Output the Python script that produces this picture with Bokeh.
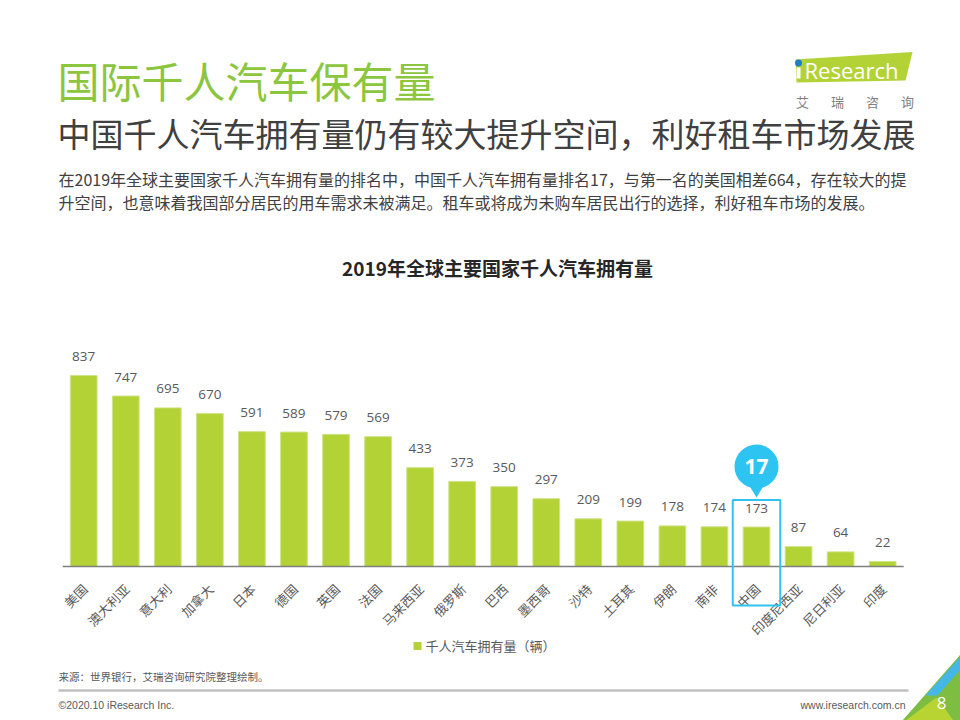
import math
from bokeh.plotting import figure
from bokeh.models import Range1d, ColumnDataSource
from bokeh.core.properties import value
from bokeh.embed import file_html
from bokeh.resources import INLINE

# ---------------- data ----------------
countries = ["美国", "澳大利亚", "意大利", "加拿大", "日本", "德国", "英国", "法国", "马来西亚", "俄罗斯",
             "巴西", "墨西哥", "沙特", "土耳其", "伊朗", "南非", "中国", "印度尼西亚", "尼日利亚", "印度"]
cars_per_1000 = [837, 747, 695, 670, 591, 589, 579, 569, 433, 373,
                 350, 297, 209, 199, 178, 174, 173, 87, 64, 22]
highlight_country = "中国"
highlight_rank = "17"
series_name = "千人汽车拥有量（辆）"

title = "国际千人汽车保有量"
subtitle = "中国千人汽车拥有量仍有较大提升空间，利好租车市场发展"
para1 = "在2019年全球主要国家千人汽车拥有量的排名中，中国千人汽车拥有量排名17，与第一名的美国相差664，存在较大的提"
para2 = "升空间，也意味着我国部分居民的用车需求未被满足。租车或将成为未购车居民出行的选择，利好租车市场的发展。"
chart_title = "2019年全球主要国家千人汽车拥有量"
source_note = "来源：世界银行，艾瑞咨询研究院整理绘制。"
footer_left = "©2020.10 iResearch Inc."
footer_right = "www.iresearch.com.cn"
page_no = "8"
logo_cn = ["艾", "瑞", "咨", "询"]

# ---------------- layout (page pixel geometry) ----------------
W, H = 960, 720
X0 = 83.2        # page x of first bar centre
PITCH = 42.05    # px per category
AXIS_Y = 566.0   # page y of baseline
PXU = 0.2282     # px per unit

CJK = value("Noto Sans CJK SC")
NUM = value("Open Sans")
GREEN = "#b2d235"
BLUE = "#2ec4f1"

p = figure(width=W, height=H, x_range=Range1d(0, W), y_range=Range1d(H, 0),
           x_axis_type=None, y_axis_type=None, output_backend="svg",
           toolbar_location=None, min_border=0, outline_line_color=None)
p.grid.visible = False
p.background_fill_color = "white"
p.border_fill_color = "white"
p.extra_x_ranges = {"idx": Range1d((0 - X0) / PITCH, (W - X0) / PITCH)}
p.extra_y_ranges = {"val": Range1d((AXIS_Y - H) / PXU, (AXIS_Y - 0) / PXU)}


def txt(x, y, s, size, color, font=CJK, align="left", baseline="middle", style="normal", **kw):
    p.text(x=[x], y=[y], text=[s], text_font_size=value(f"{size}px"), text_color=color,
           text_font=font, text_align=align, text_baseline=baseline,
           text_font_style=style, **kw)


# ---------------- header ----------------
txt(57, 79, title, 42, "#8cc63f")
txt(57, 132, subtitle, 33, "#404040")
txt(58, 178, para1, 16, "#404040")
txt(58, 201, para2, 16, "#404040")

# logo
p.patch(x=[795, 912, 905, 796], y=[59, 51.5, 80, 82], fill_color=GREEN, line_color=None)
p.quad(left=[796], right=[800], top=[67], bottom=[78], fill_color="white", line_color=None)
p.scatter(x=[798], y=[62.5], size=7, marker="circle", fill_color="#1f7fc4", line_color=None)
txt(804, 69, "Research", 22, "white", font=NUM)
for i, ch in enumerate(logo_cn):
    txt(802 + i * 35, 101, ch, 13, "#7f7f7f", align="center")

# chart title
txt(497, 267, chart_title, 19, "#262626", style="bold", align="center")

# ---------------- bars ----------------
idx = list(range(len(countries)))
src = ColumnDataSource(dict(i=idx, v=cars_per_1000, c=countries,
                            lbl=[str(v) for v in cars_per_1000]))
p.vbar(x="i", top="v", bottom=0, width=0.635, source=src, fill_color=GREEN,
       line_color="#cfe388", line_width=1, x_range_name="idx", y_range_name="val")
p.text(x="i", y="v", text="lbl", source=src, x_range_name="idx", y_range_name="val",
       text_font=NUM, text_font_size=value("13.5px"), text_color="#595959",
       text_align="center", text_baseline="middle", y_offset=-19)
# axis line
p.segment(x0=[-0.5], x1=[len(countries) - 0.5], y0=[0], y1=[0], line_color="#7f7f7f",
          line_width=1.5, x_range_name="idx", y_range_name="val")
# category labels
p.text(x="i", y=value(0), text="c", source=src, x_range_name="idx", y_range_name="val",
       text_font=CJK, text_font_size=value("13px"), text_color="#595959",
       text_align="right", text_baseline="middle", angle=math.pi / 4, y_offset=20, x_offset=1)

# highlight
hi = countries.index(highlight_country)
p.quad(left=[hi - 0.565], right=[hi + 0.565], top=[499.5], bottom=[605], fill_color=None,
       line_color=BLUE, line_width=2, x_range_name="idx")
p.patch(x=[hi - 0.3, hi + 0.3, hi], y=[476, 476, 497], fill_color=BLUE, line_color=None,
        x_range_name="idx")
p.scatter(x=[hi], y=[466], size=44, marker="circle", fill_color=BLUE, line_color=None,
          x_range_name="idx")
p.text(x=[hi], y=[466], text=[highlight_rank], x_range_name="idx", text_font=NUM,
       text_font_size=value("21px"), text_font_style="bold", text_color="white",
       text_align="center", text_baseline="middle")

# legend
p.scatter(x=[417], y=[645.5], size=8, marker="square", fill_color=GREEN, line_color=None)
txt(425, 644.5, series_name, 13, "#595959")

# ---------------- footer ----------------
txt(58, 676, source_note, 10.5, "#595959")
p.segment(x0=[58], x1=[908], y0=[690], y1=[690], line_color="#c0c0c0", line_width=2.5)
txt(58, 704, footer_left, 10.5, "#595959", font=value("Liberation Sans"))
txt(905, 704, footer_right, 10.5, "#595959", font=value("Liberation Sans"), align="right")

# corner decoration
p.patch(x=[902, 960, 960], y=[720, 654, 720], fill_color="#7cbd42", line_color=None)
p.patch(x=[905, 936, 953], y=[720, 697, 720], fill_color="#b7d432", line_color=None)
p.patch(x=[925, 960, 960, 937], y=[695, 656, 669, 695], fill_color="#45b7e6", line_color=None)
txt(941, 702, page_no, 17, "white", font=NUM, align="center")

open("out.html", "w").write(file_html(p, INLINE))
